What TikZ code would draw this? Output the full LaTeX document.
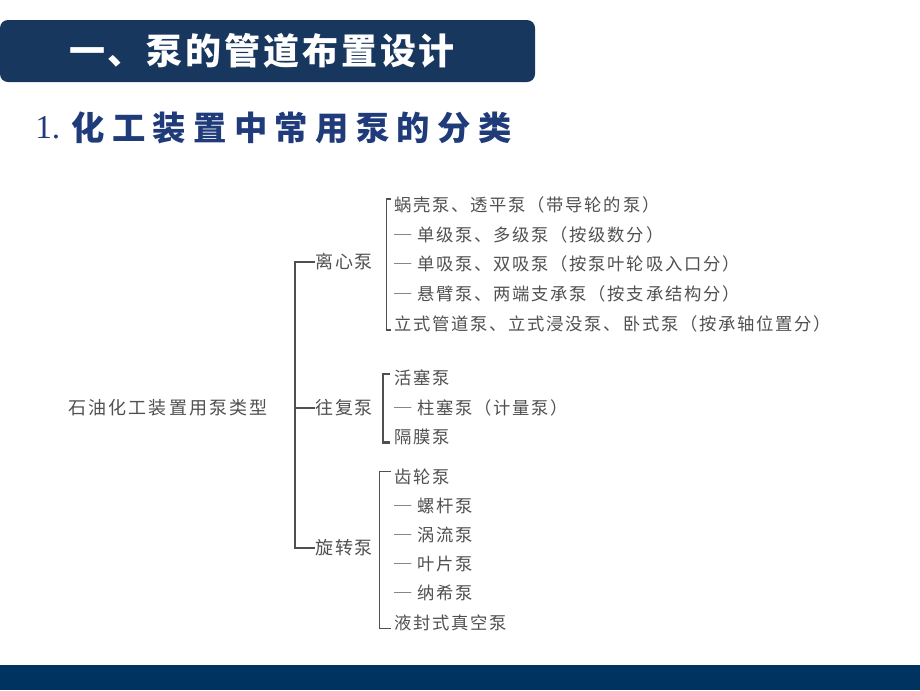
\documentclass[tikz,border=0pt]{standalone}
\usepackage{fontspec}
\setmainfont{Liberation Serif}
\newfontfamily\cjk{Noto Sans CJK SC}
\usetikzlibrary{positioning}

\definecolor{navy}{HTML}{17375E}
\definecolor{subblue}{HTML}{1F3B7A}
\definecolor{band}{HTML}{00335F}
\definecolor{ink}{HTML}{505050}

\tikzset{
 item/.style={anchor=west, inner sep=0pt, text=ink,
   font=\cjk\addfontfeature{LetterSpace=10}\fontsize{13}{15}\selectfont},
 group/.style={item, font=\cjk\addfontfeature{LetterSpace=10}\fontsize{13.5}{15}\selectfont},
 branch/.style={draw=ink, line width=0.9pt},
 brace/.style={draw=ink, line width=1pt},
}

\begin{document}
\begin{tikzpicture}[x=0.75pt,y=-0.75pt]
 \useasboundingbox (0,0) rectangle (920,690);
 % heading bar and band
 \fill[navy, rounded corners=6pt] (0,20) rectangle (535,82);
 \fill[band] (0,665) rectangle (920,690);
 \node[text=white, inner sep=0pt,
   font=\cjk\bfseries\addfontfeature{LetterSpace=8}\fontsize{27}{30}\selectfont] (title) at (262,51) {一、泵的管道布置设计};
 \node[anchor=west, inner sep=0pt, text=subblue] (num) at (35,128) {\fontsize{25}{28}\selectfont 1.};
 \node[right=8pt of num, inner sep=0pt, text=subblue,
   font=\cjk\bfseries\addfontfeature{LetterSpace=22}\fontsize{25}{28}\selectfont] (sub) {化工装置中常用泵的分类};

 % root
 \node[group, font=\cjk\addfontfeature{LetterSpace=12}\fontsize{13.5}{15}\selectfont] (root) at (68,408) {石油化工装置用泵类型};

 % groups
 \node[group] (lx) at (315,262) {离心泵};
 \node[group] (wf) at (315,408) {往复泵};
 \node[group] (xz) at (315,548) {旋转泵};
 \draw[branch] (lx.west) -- ++(-20,0) |- (xz.west);
 \draw[branch] (wf.west) -- ++(-20,0);

 % centrifugal
 \node[item] (c1) at (394,205) {蜗壳泵、透平泵（带导轮的泵）};
 \node[item] (c2) at (394,235) {─ 单级泵、多级泵（按级数分）};
 \node[item] (c3) at (394,264) {─ 单吸泵、双吸泵（按泵叶轮吸入口分）};
 \node[item] (c4) at (394,294) {─ 悬臂泵、两端支承泵（按支承结构分）};
 \node[item] (c5) at (394,324) {立式管道泵、立式浸没泵、卧式泵（按承轴位置分）};
 \draw[brace] ([xshift=-2pt,yshift=-2pt]c1.north west) -- ++(-5,0) |- ([xshift=-2pt,yshift=2pt]c5.south west);

 % reciprocating
 \node[item] (r1) at (394,378) {活塞泵};
 \node[item] (r2) at (394,408) {─ 柱塞泵（计量泵）};
 \node[item] (r3) at (394,437) {隔膜泵};
 \draw[brace, line width=1.8pt] ([xshift=-3pt,yshift=-3pt]r1.north west) -- ++(-7,0) |- ([xshift=-3pt,yshift=2pt]r3.south west);

 % rotary
 \node[item] (s1) at (394,477) {齿轮泵};
 \node[item] (s2) at (394,506) {─ 螺杆泵};
 \node[item] (s3) at (394,535) {─ 涡流泵};
 \node[item] (s4) at (394,564) {─ 叶片泵};
 \node[item] (s5) at (394,593) {─ 纳希泵};
 \node[item] (s6) at (394,623) {液封式真空泵};
 \draw[brace] ([xshift=-2pt,yshift=-2pt]s1.north west) -- ++(-12,0) |- ([xshift=-2pt,yshift=2pt]s6.south west);
\end{tikzpicture}
\end{document}
